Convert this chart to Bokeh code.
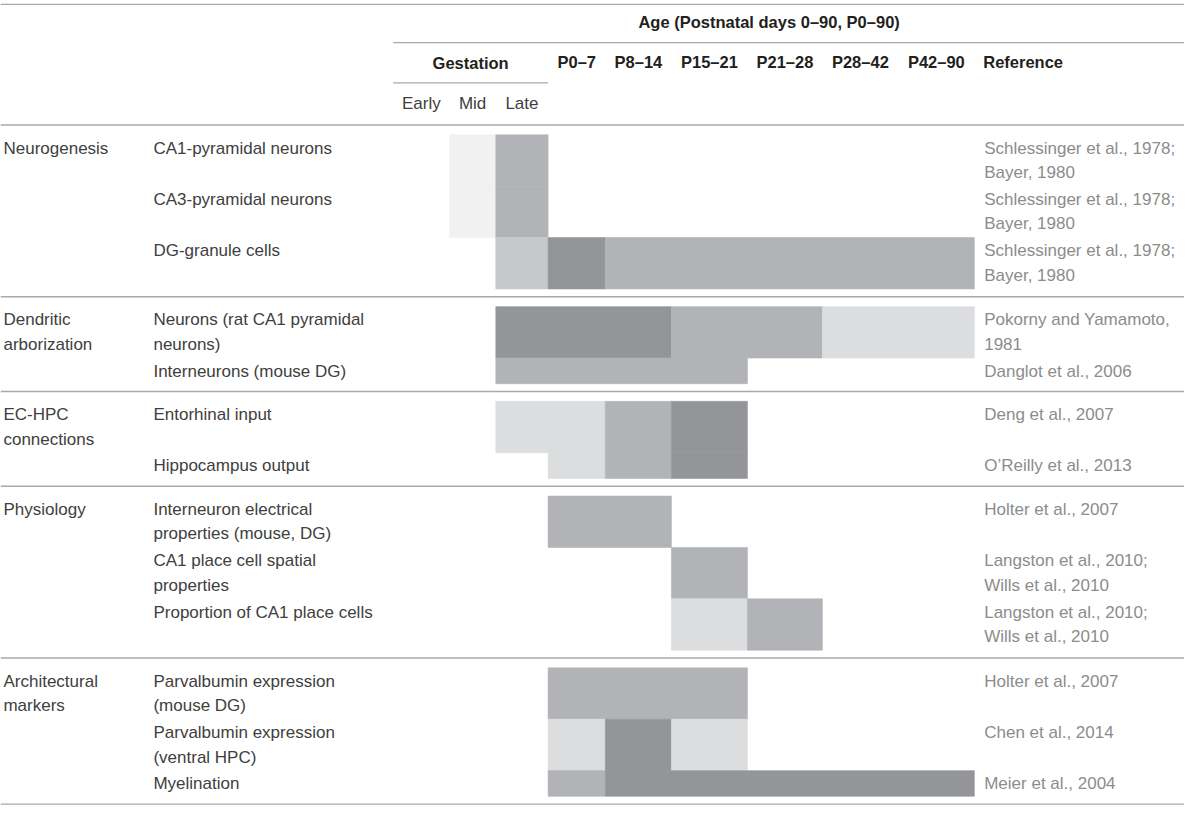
from bokeh.plotting import figure
from bokeh.models import Range1d, ColumnDataSource
from bokeh.core.properties import value
from bokeh.embed import file_html
from bokeh.resources import INLINE

# ---------------- data ----------------
columns = ["Early", "Mid", "Late", "P0–7", "P8–14", "P15–21", "P21–28", "P28–42", "P42–90"]
age_title = "Age (Postnatal days 0–90, P0–90)"
gestation_title = "Gestation"
reference_title = "Reference"

sections = ["Neurogenesis", "Dendritic\narborization", "EC-HPC\nconnections",
            "Physiology", "Architectural\nmarkers"]
section_rows = [3, 2, 2, 3, 3]

row_labels = [
    "CA1-pyramidal neurons",
    "CA3-pyramidal neurons",
    "DG-granule cells",
    "Neurons (rat CA1 pyramidal\nneurons)",
    "Interneurons (mouse DG)",
    "Entorhinal input",
    "Hippocampus output",
    "Interneuron electrical\nproperties (mouse, DG)",
    "CA1 place cell spatial\nproperties",
    "Proportion of CA1 place cells",
    "Parvalbumin expression\n(mouse DG)",
    "Parvalbumin expression\n(ventral HPC)",
    "Myelination",
]
row_refs = [
    "Schlessinger et al., 1978;\nBayer, 1980",
    "Schlessinger et al., 1978;\nBayer, 1980",
    "Schlessinger et al., 1978;\nBayer, 1980",
    "Pokorny and Yamamoto,\n1981",
    "Danglot et al., 2006",
    "Deng et al., 2007",
    "O’Reilly et al., 2013",
    "Holter et al., 2007",
    "Langston et al., 2010;\nWills et al., 2010",
    "Langston et al., 2010;\nWills et al., 2010",
    "Holter et al., 2007",
    "Chen et al., 2014",
    "Meier et al., 2004",
]
row_lines = [2, 2, 2, 2, 1, 2, 1, 2, 2, 2, 2, 2, 1]

# shading level per column (0 = none, 1 = faint, 2 = light, 3 = light-medium, 4 = medium, 5 = dark)
levels = [
    [0, 1, 4, 0, 0, 0, 0, 0, 0],
    [0, 1, 4, 0, 0, 0, 0, 0, 0],
    [0, 0, 3, 5, 4, 4, 4, 4, 4],
    [0, 0, 5, 5, 5, 4, 4, 2, 2],
    [0, 0, 4, 4, 4, 4, 0, 0, 0],
    [0, 0, 2, 2, 4, 5, 0, 0, 0],
    [0, 0, 0, 2, 4, 5, 0, 0, 0],
    [0, 0, 0, 4, 4, 0, 0, 0, 0],
    [0, 0, 0, 0, 0, 4, 0, 0, 0],
    [0, 0, 0, 0, 0, 2, 4, 0, 0],
    [0, 0, 0, 4, 4, 4, 0, 0, 0],
    [0, 0, 0, 2, 5, 2, 0, 0, 0],
    [0, 0, 0, 4, 5, 5, 5, 5, 5],
]

# ---------------- styles / layout ----------------
shade = {1: "#f1f1f2", 2: "#dcdddf", 3: "#c7c8ca", 4: "#b1b3b6", 5: "#939598"}
col_edges = [398, 455, 502, 555, 613, 680, 757, 833, 910, 987]
FONT = value("Liberation Sans")
FS = "17px"
FS_B = "16.5px"
LABEL_C = "#404040"
REF_C = "#8c8c8c"
HEAD_C = "#231f20"
RULE_C = "#a9a9a9"
LINE_H = 26.2
TEXT_STEP = 25
PAD_TOP = 10
PAD_BOT = 8
HEADER_BOTTOM = 127
X_SEC, X_LAB, X_REF = 3, 155, 997

W, H = 1184, 807
p = figure(width=W, height=H, output_backend="svg", toolbar_location=None,
           x_range=Range1d(0, 1200), y_range=Range1d(823, 0),
           min_border=0, outline_line_color=None, tools="")
p.axis.visible = False
p.grid.visible = False
p.background_fill_color = "white"
p.border_fill_color = "white"

# ---- compute row geometry ----
row_top, row_bot = [], []
sec_top, sec_rule = [], []
y = HEADER_BOTTOM
r = 0
for s, n in enumerate(section_rows):
    y += PAD_TOP
    sec_top.append(y)
    for _ in range(n):
        row_top.append(y)
        y += row_lines[r] * LINE_H
        row_bot.append(y)
        r += 1
    y += PAD_BOT
    sec_rule.append(y)

# ---- cells (merge horizontal runs of the same shade) ----
cl, cr, ct, cb, cc = [], [], [], [], []
for ri, lv in enumerate(levels):
    c = 0
    while c < len(lv):
        if lv[c] == 0:
            c += 1
            continue
        start = c
        while c + 1 < len(lv) and lv[c + 1] == lv[start]:
            c += 1
        cl.append(col_edges[start]); cr.append(col_edges[c + 1])
        ct.append(row_top[ri]); cb.append(row_bot[ri])
        cc.append(shade[lv[start]])
        c += 1
cells = ColumnDataSource(dict(left=cl, right=cr, top=ct, bottom=cb, color=cc))
p.quad(left="left", right="right", top="top", bottom="bottom", source=cells,
       fill_color="color", line_color="color", line_width=0.6)

# ---- rules ----
rx0 = [0, 398, 398, 0] + [0] * len(sec_rule)
rx1 = [1200, 1200, 555, 1200] + [1200] * len(sec_rule)
ry = [4, 43, 84, HEADER_BOTTOM] + sec_rule
p.segment(x0=rx0, x1=rx1, y0=ry, y1=ry, line_color=RULE_C, line_width=1.4)

# ---- header texts ----
centers = [(col_edges[i] + col_edges[i + 1]) / 2 for i in range(len(columns))]
p.text(x=[779], y=[22], text=[age_title], text_font=FONT, text_font_size=FS_B,
       text_font_style="bold", text_color=HEAD_C, text_align="center", text_baseline="middle")
p.text(x=[(col_edges[0] + col_edges[3]) / 2], y=[64], text=[gestation_title], text_font=FONT,
       text_font_size=FS_B, text_font_style="bold", text_color=HEAD_C,
       text_align="center", text_baseline="middle")
p.text(x=centers[3:], y=[63] * len(columns[3:]), text=columns[3:], text_font=FONT,
       text_font_size=FS_B, text_font_style="bold", text_color=HEAD_C,
       text_align="center", text_baseline="middle")
p.text(x=[X_REF - 1], y=[63], text=[reference_title], text_font=FONT, text_font_size=FS_B,
       text_font_style="bold", text_color=HEAD_C, text_align="left", text_baseline="middle")
p.text(x=centers[:3], y=[105] * 3, text=columns[:3], text_font=FONT, text_font_size=FS,
       text_color=LABEL_C, text_align="center", text_baseline="middle")

# ---- body texts ----
def lines_at(strings, tops, x):
    xs, ys, ts = [], [], []
    for s, t in zip(strings, tops):
        for i, ln in enumerate(s.split("\n")):
            xs.append(x); ys.append(t + 13.5 + i * TEXT_STEP); ts.append(ln)
    return xs, ys, ts

for strings, tops, x, color in [(sections, sec_top, X_SEC, LABEL_C),
                                 (row_labels, row_top, X_LAB, LABEL_C),
                                 (row_refs, row_top, X_REF, REF_C)]:
    xs, ys, ts = lines_at(strings, tops, x)
    p.text(x=xs, y=ys, text=ts, text_font=FONT, text_font_size=FS, text_color=color,
           text_align="left", text_baseline="middle")

open("out.html", "w").write(file_html(p, INLINE))
